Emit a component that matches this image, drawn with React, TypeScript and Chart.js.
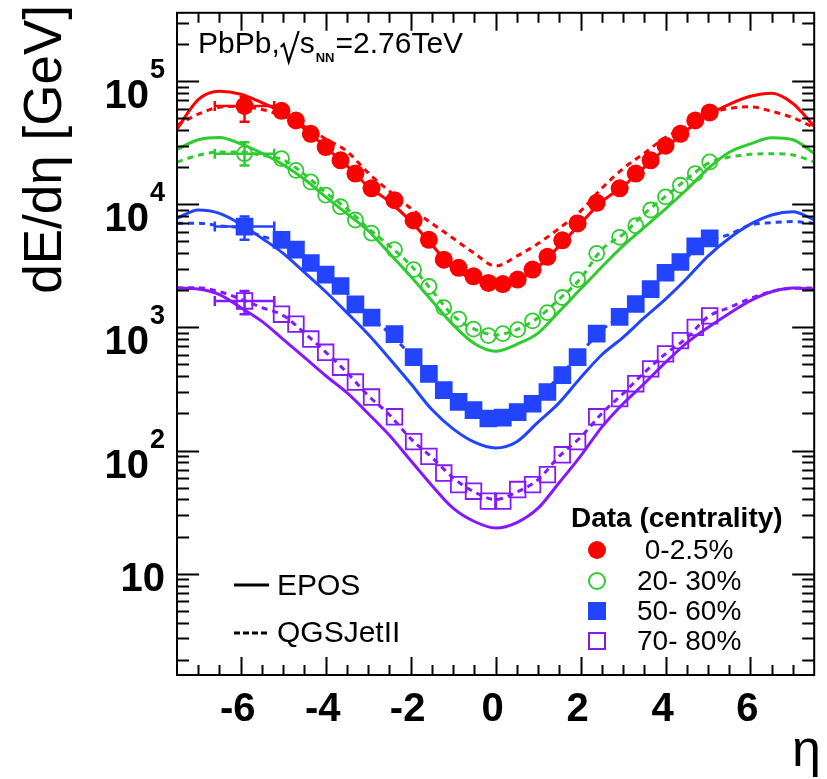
import React, { useEffect, useRef } from "react";
import { Chart, registerables } from "chart.js";

Chart.register(...registerables);

// ---- measured data points (pseudorapidity bins) ----
const etaData = [
  -5.04, -4.7, -4.35, -4.0, -3.65, -3.3, -2.92, -2.38, -1.93, -1.57, -1.22, -0.87, -0.52, -0.17,
  0.17, 0.52, 0.87, 1.22, 1.57, 1.93, 2.38, 2.92, 3.3, 3.65, 4.0, 4.35, 4.7, 5.04,
];
const data0to2p5 = [
  57500, 48000, 37400, 29200, 22800, 17800, 13500, 10800, 7400, 5150, 3550, 3050, 2600, 2300,
  2250, 2450, 2950, 3750, 5100, 7000, 10300, 13500, 17800, 22800, 30000, 37400, 48000, 55800,
];
const data20to30 = [
  23500, 18900, 15200, 11900, 9560, 7460, 5830, 4280, 2950, 2150, 1450, 1170, 968, 857,
  890, 960, 1130, 1320, 1750, 2450, 4000, 5400, 6700, 9000, 11500, 14300, 17800, 22100,
];
const data50to60 = [
  5150, 4280, 3340, 2690, 2170, 1540, 1200, 883, 573, 420, 309, 248, 213, 182,
  185, 205, 240, 299, 410, 573, 890, 1220, 1550, 2050, 2780, 3400, 4560, 5300,
];
const data70to80 = [
  1280, 1063, 805, 628, 475, 360, 272, 188, 118, 89.5, 65.6, 52.8, 46.7, 38.8,
  38.8, 48.2, 52.8, 63.7, 92.3, 118, 188, 264, 349, 461, 610, 781, 1000, 1240,
];

// very forward bin (-6.6 < eta < -5.2)
const forwardEta = -5.91;
const forwardEtaLow = -6.61;
const forwardEtaHigh = -5.21;
const forwardValue = [63000, 25800, 6600, 1640];
const forwardLow = [47000, 20700, 5150, 1280];
const forwardHigh = [74000, 32000, 7950, 1980];

// ---- model predictions ----
const etaModel = [
  -7.5, -7, -6.5, -6, -5.5, -5, -4.5, -4, -3.5, -3, -2.5, -2, -1.5, -1, -0.5, 0,
  0.5, 1, 1.5, 2, 2.5, 3, 3.5, 4, 4.5, 5, 5.5, 6, 6.5, 7, 7.5,
];
const eposC0 = [
  41000, 71000, 83000, 78500, 67000, 55000, 41000, 29000, 20500, 14000, 10500, 7300, 4700, 3000, 2500, 2250,
  2400, 3100, 4600, 7000, 10500, 14000, 20000, 28500, 40000, 53000, 65000, 75500, 80000, 66000, 43000,
];
const qgsC0 = [
  44000, 54000, 61500, 62500, 59000, 52000, 43000, 34000, 27000, 18000, 12800, 9300, 7000, 5300, 4000, 3150,
  3800, 4800, 6400, 8800, 13500, 19500, 26000, 35000, 43000, 54000, 60000, 62000, 57000, 50500, 42000,
];
const eposC20 = [
  28000, 33500, 35000, 31000, 26000, 21000, 16000, 11500, 8400, 6100, 4000, 2600, 1650, 1050, 740, 640,
  730, 900, 1350, 2050, 3100, 4600, 6500, 9200, 13200, 19500, 26500, 31000, 34800, 33500, 26000,
];
const qgsC20 = [
  22100, 25000, 26600, 26600, 25000, 23000, 17500, 12500, 9200, 6400, 4600, 3200, 2000, 1250, 970, 870,
  960, 1200, 1700, 2500, 4300, 5700, 8400, 11600, 16000, 21500, 24200, 25500, 25800, 25200, 22100,
];
const eposC50 = [
  7700, 9000, 8450, 6900, 5300, 4000, 2800, 1950, 1320, 880, 560, 350, 215, 150, 117, 105,
  118, 170, 245, 390, 600, 830, 1200, 1700, 2500, 3800, 5300, 6900, 8200, 8700, 7500,
];
const qgsC50 = [
  7030, 7030, 6700, 6400, 5500, 4900, 3700, 2700, 1900, 1250, 900, 600, 410, 275, 210, 185,
  210, 270, 400, 620, 950, 1280, 1850, 2750, 3700, 5000, 5700, 6800, 7100, 7250, 7030,
];
const eposC70 = [
  2090, 2050, 1850, 1450, 1120, 800, 570, 405, 295, 200, 133, 83, 52, 34, 26.5, 23.5,
  26, 34, 55, 90, 155, 240, 350, 520, 750, 1000, 1300, 1650, 1950, 2090, 2040,
];
const qgsC70 = [
  2090, 2100, 1950, 1700, 1450, 1250, 900, 630, 430, 280, 195, 125, 88, 60, 46, 40,
  46, 58, 90, 128, 200, 290, 430, 610, 820, 1220, 1450, 1720, 1960, 2080, 2090,
];

// ---- axes / labels ----
const xMin = -7.5;
const xMax = 7.5;
const yMin = 1.5;
const yMax = 3.6e5;
const xTickLabels = ["-6", "-4", "-2", "0", "2", "4", "6"];
const xTickValues = [-6, -4, -2, 0, 2, 4, 6];
const yLabelExponents = [1, 2, 3, 4, 5];
const centralityLabels = [" 0-2.5%", "20- 30%", "50- 60%", "70- 80%"];
const colors = ["#ff0000", "#2ecc2e", "#2244ff", "#8418ff"];

const SANS = '"Liberation Sans", Arial, Helvetica, sans-serif';

const seriesData = [data0to2p5, data20to30, data50to60, data70to80];
const seriesEpos = [eposC0, eposC20, eposC50, eposC70];
const seriesQgs = [qgsC0, qgsC20, qgsC50, qgsC70];
const markerStyles: any[] = [
  { pointStyle: "circle", radius: 9, fill: true },
  { pointStyle: "circle", radius: 7.5, fill: false },
  { pointStyle: "rect", radius: 12.5, fill: true },
  { pointStyle: "rect", radius: 11, fill: false },
];

function drawMarker(ctx: CanvasRenderingContext2D, k: number, x: number, y: number) {
  const c = colors[k];
  ctx.save();
  ctx.lineWidth = 2;
  ctx.strokeStyle = c;
  ctx.fillStyle = c;
  ctx.beginPath();
  if (k === 0) {
    ctx.arc(x, y, 9, 0, Math.PI * 2);
    ctx.fill();
  } else if (k === 1) {
    ctx.arc(x, y, 8, 0, Math.PI * 2);
    ctx.stroke();
  } else if (k === 2) {
    ctx.fillRect(x - 9, y - 9, 18, 18);
  } else {
    ctx.strokeRect(x - 8, y - 8, 16, 16);
  }
  ctx.restore();
}

const rootStyle = {
  id: "rootStyle",
  beforeDatasetsDraw(chart: any) {
    const ctx: CanvasRenderingContext2D = chart.ctx;
    const xs = chart.scales.x;
    const ys = chart.scales.y;
    ctx.save();
    ctx.lineWidth = 2.5;
    for (let k = 0; k < 4; k++) {
      ctx.strokeStyle = colors[k];
      const cx = xs.getPixelForValue(forwardEta);
      const cy = ys.getPixelForValue(forwardValue[k]);
      const x1 = xs.getPixelForValue(forwardEtaLow);
      const x2 = xs.getPixelForValue(forwardEtaHigh);
      const y1 = ys.getPixelForValue(forwardLow[k]);
      const y2 = ys.getPixelForValue(forwardHigh[k]);
      ctx.beginPath();
      ctx.moveTo(x1, cy);
      ctx.lineTo(x2, cy);
      ctx.moveTo(x1, cy - 5);
      ctx.lineTo(x1, cy + 5);
      ctx.moveTo(x2, cy - 5);
      ctx.lineTo(x2, cy + 5);
      ctx.moveTo(cx, y1);
      ctx.lineTo(cx, y2);
      ctx.moveTo(cx - 5, y1);
      ctx.lineTo(cx + 5, y1);
      ctx.moveTo(cx - 5, y2);
      ctx.lineTo(cx + 5, y2);
      ctx.stroke();
    }
    ctx.restore();
  },
  afterDraw(chart: any) {
    const ctx: CanvasRenderingContext2D = chart.ctx;
    const { left, right, top, bottom } = chart.chartArea;
    const xs = chart.scales.x;
    const ys = chart.scales.y;
    ctx.save();
    ctx.strokeStyle = "#000";
    ctx.fillStyle = "#000";
    ctx.lineWidth = 2;
    ctx.strokeRect(left, top, right - left, bottom - top);

    // x ticks, bottom and top
    ctx.beginPath();
    for (let i = -14; i <= 14; i++) {
      const v = i / 2;
      const px = Math.round(xs.getPixelForValue(v)) + 0.5;
      const len = i % 4 === 0 ? 18 : 10;
      ctx.moveTo(px, bottom);
      ctx.lineTo(px, bottom - len);
      ctx.moveTo(px, top);
      ctx.lineTo(px, top + len);
    }
    // y ticks, left and right
    for (let e = 0; e <= 5; e++) {
      for (let m = 1; m <= 9; m++) {
        const v = m * Math.pow(10, e);
        if (v < yMin || v > yMax) continue;
        const py = Math.round(ys.getPixelForValue(v)) + 0.5;
        const len = m === 1 ? 22 : 12;
        ctx.moveTo(left, py);
        ctx.lineTo(left + len, py);
        ctx.moveTo(right, py);
        ctx.lineTo(right - len, py);
      }
    }
    ctx.stroke();

    // x tick labels
    ctx.font = `bold 40px ${SANS}`;
    ctx.textAlign = "center";
    ctx.textBaseline = "alphabetic";
    xTickValues.forEach((v, i) => {
      ctx.fillText(xTickLabels[i], xs.getPixelForValue(v) - 3, 721);
    });

    // y tick labels (powers of ten)
    const labelRight = 165;
    yLabelExponents.forEach((e) => {
      const py = ys.getPixelForValue(Math.pow(10, e));
      ctx.textAlign = "right";
      if (e === 1) {
        ctx.font = `bold 40px ${SANS}`;
        ctx.fillText("10", labelRight, py + 17);
      } else {
        ctx.font = `bold 27px ${SANS}`;
        const sup = String(e);
        const sw = ctx.measureText(sup).width;
        ctx.fillText(sup, labelRight, py - 3);
        ctx.font = `bold 40px ${SANS}`;
        ctx.fillText("10", labelRight - sw - 1, py + 27);
      }
    });

    // y axis title
    ctx.save();
    ctx.translate(61, 5);
    ctx.rotate(-Math.PI / 2);
    ctx.font = `53px ${SANS}`;
    ctx.textAlign = "right";
    ctx.fillText("dE/dη [GeV]", 0, 0);
    ctx.restore();

    // x axis title
    ctx.font = `52px ${SANS}`;
    ctx.textAlign = "right";
    ctx.fillText("η", 821, 766);

    // collision system
    ctx.font = `30px ${SANS}`;
    ctx.textAlign = "left";
    const x0 = 198;
    const base = 53;
    ctx.fillText("PbPb,", x0, base);
    let xa = x0 + ctx.measureText("PbPb,").width;
    ctx.lineWidth = 2.2;
    ctx.beginPath();
    ctx.moveTo(xa + 1, 47);
    ctx.lineTo(xa + 4, 44);
    ctx.lineTo(xa + 9, 62);
    ctx.lineTo(xa + 19, 31);
    ctx.stroke();
    xa += 20;
    ctx.fillText("s", xa, base);
    xa += ctx.measureText("s").width + 1;
    ctx.font = `bold 13px ${SANS}`;
    ctx.fillText("NN", xa, 62);
    xa += ctx.measureText("NN").width + 1;
    ctx.font = `30px ${SANS}`;
    ctx.fillText("=2.76TeV", xa, base);

    // model legend
    ctx.lineWidth = 3;
    ctx.beginPath();
    ctx.moveTo(234, 585);
    ctx.lineTo(269, 585);
    ctx.stroke();
    ctx.setLineDash([6, 3]);
    ctx.beginPath();
    ctx.moveTo(234, 633);
    ctx.lineTo(270, 633);
    ctx.stroke();
    ctx.setLineDash([]);
    ctx.font = `30px ${SANS}`;
    ctx.textBaseline = "middle";
    ctx.fillText("EPOS", 277, 587);
    ctx.fillText("QGSJetII", 277, 634);

    // data legend
    ctx.font = `bold 28px ${SANS}`;
    ctx.fillText("Data (centrality)", 571, 519);
    const legendY = [550, 581, 611, 641];
    ctx.font = `28px ${SANS}`;
    for (let k = 0; k < 4; k++) {
      drawMarker(ctx, k, 597, legendY[k]);
      ctx.fillStyle = "#000";
      ctx.fillText(centralityLabels[k], 637, legendY[k] + 1);
    }
    ctx.restore();
  },
};

export default function App() {
  const ref = useRef<HTMLCanvasElement>(null);

  useEffect(() => {
    if (!ref.current) return;
    const datasets: any[] = [];
    for (let k = 0; k < 4; k++) {
      const ms = markerStyles[k];
      const pts = etaData.map((x, i) => ({ x, y: seriesData[k][i] }));
      pts.unshift({ x: forwardEta, y: forwardValue[k] });
      datasets.push({
        label: centralityLabels[k],
        data: pts,
        showLine: false,
        pointStyle: ms.pointStyle,
        pointRadius: ms.radius,
        pointHoverRadius: ms.radius,
        pointBorderWidth: ms.fill ? 0 : 1.8,
        pointBackgroundColor: ms.fill ? colors[k] : "rgba(0,0,0,0)",
        pointBorderColor: colors[k],
        order: 1,
      });
      datasets.push({
        label: "EPOS",
        data: etaModel.map((x, i) => ({ x, y: seriesEpos[k][i] })),
        borderColor: colors[k],
        borderWidth: 3,
        pointRadius: 0,
        fill: false,
        cubicInterpolationMode: "monotone",
        order: 2,
      });
      datasets.push({
        label: "QGSJetII",
        data: etaModel.map((x, i) => ({ x, y: seriesQgs[k][i] })),
        borderColor: colors[k],
        borderWidth: 3,
        borderDash: [6, 5],
        pointRadius: 0,
        fill: false,
        cubicInterpolationMode: "monotone",
        order: 2,
      });
    }

    const chart = new Chart(ref.current, {
      type: "line",
      data: { datasets },
      options: {
        responsive: false,
        animation: false,
        events: [],
        layout: { padding: { left: 177, top: 8, right: 4, bottom: 104 } },
        scales: {
          x: { type: "linear", min: xMin, max: xMax, display: false },
          y: { type: "logarithmic", min: yMin, max: yMax, display: false },
        },
        plugins: {
          legend: { display: false },
          tooltip: { enabled: false },
        },
      },
      plugins: [rootStyle],
    });
    return () => chart.destroy();
  }, []);

  return (
    <div style={{ position: "absolute", left: 0, top: 0, width: 827, height: 779, background: "#fff" }}>
      <canvas ref={ref} width={827} height={779} style={{ display: "block", width: 827, height: 779 }} />
    </div>
  );
}
